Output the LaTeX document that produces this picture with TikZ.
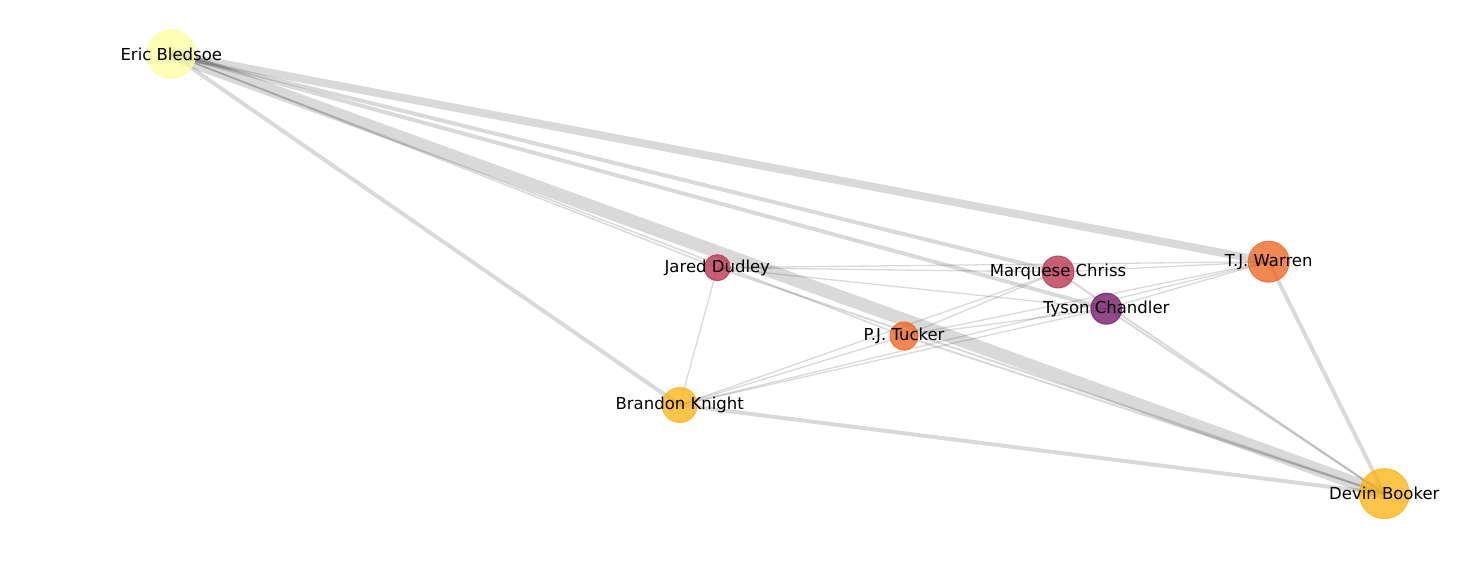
\documentclass[tikz,border=0pt]{standalone}
\usepackage{fontspec}
\setmainfont{DejaVu Sans}
\usetikzlibrary{backgrounds}
\definecolor{cyel}{HTML}{FCFFA4}
\definecolor{cred}{HTML}{BC3754}
\definecolor{corg}{HTML}{ED6925}
\definecolor{cpur}{HTML}{781C6D}
\definecolor{cgold}{HTML}{FBB61A}
\tikzset{
  player/.style={circle, inner sep=0pt, fill=#1, draw=#1, fill opacity=0.8, draw opacity=0.8, line width=1pt},
  lbl/.style={font=\fontsize{16.5}{20}\selectfont, inner sep=0pt, text=black},
  edge/.style={draw=black, draw opacity=0.15, line width=#1},
  edge/.default=1.3pt
}
\begin{document}
\begin{tikzpicture}[x=1pt,y=-1pt]
\useasboundingbox (0,0) rectangle (1481,580);
% nodes
\node[player=cyel, minimum size=49pt] (EB) at (171.3,54) {};
\node[player=cred, minimum size=26pt] (JD) at (717.3,267.7) {};
\node[player=cred, minimum size=32pt] (MC) at (1058,272) {};
\node[player=corg, minimum size=41pt] (TW) at (1268.7,261.7) {};
\node[player=cpur, minimum size=31pt] (TC) at (1106.3,308.7) {};
\node[player=corg, minimum size=28pt] (PT) at (904,336) {};
\node[player=cgold, minimum size=35pt] (BK) at (679.7,405) {};
\node[player=cgold, minimum size=50pt] (DB) at (1384.3,493.7) {};
% edges
\begin{pgfonlayer}{background}
\draw[edge=8pt] (EB.center) -- (TW.center);
\draw[edge=4pt] (EB.center) -- (MC.center);
\draw[edge=4pt] (EB.center) -- (TC.center);
\draw[edge=13pt] (EB.center) -- (DB.center);
\draw[edge=1.5pt] (EB.center) -- (JD.center);
\draw[edge=1.5pt] (EB.center) -- (PT.center);
\draw[edge=4pt] (EB.center) -- (BK.center);
\draw[edge] (JD.center) -- (BK.center);
\draw[edge] (JD.center) -- (MC.center);
\draw[edge] (JD.center) -- (TW.center);
\draw[edge] (JD.center) -- (TC.center);
\draw[edge=2pt] (JD.center) -- (DB.center);
\draw[edge=2pt] (PT.center) -- (DB.center);
\draw[edge=4pt] (BK.center) -- (DB.center);
\draw[edge] (BK.center) -- (PT.center);
\draw[edge] (BK.center) -- (MC.center);
\draw[edge] (BK.center) -- (TC.center);
\draw[edge] (BK.center) -- (TW.center);
\draw[edge=4pt] (TW.center) -- (DB.center);
\draw[edge] (TW.center) -- (PT.center);
\draw[edge] (TW.center) -- (TC.center);
\draw[edge] (TW.center) -- (MC.center);
\draw[edge=2pt] (TC.center) -- (DB.center);
\draw[edge=2pt] (MC.center) -- (DB.center);
\draw[edge] (PT.center) -- (MC.center);
\draw[edge] (PT.center) -- (TC.center);
\end{pgfonlayer}
% labels
\node[lbl] (lEB) at (EB) {Eric Bledsoe};
\node[lbl] (lJD) at (JD) {Jared Dudley};
\node[lbl] (lMC) at (MC) {Marquese Chriss};
\node[lbl] (lTW) at (TW) {T.J. Warren};
\node[lbl] (lTC) at (TC) {Tyson Chandler};
\node[lbl] (lPT) at (PT) {P.J. Tucker};
\node[lbl] (lBK) at (BK) {Brandon Knight};
\node[lbl] (lDB) at (DB) {Devin Booker};
\end{tikzpicture}
\end{document}
